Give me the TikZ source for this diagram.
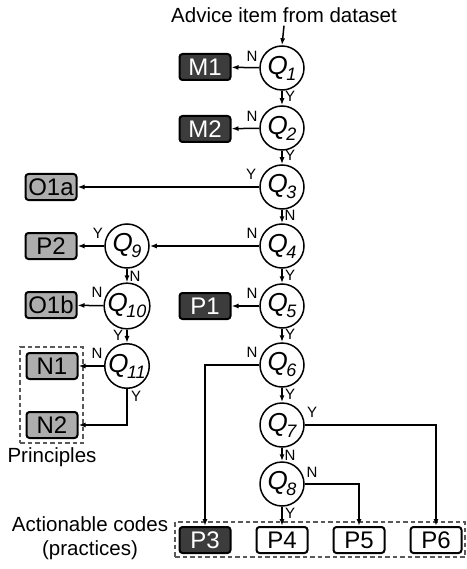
\documentclass[tikz,border=0pt]{standalone}
\usepackage{fontspec}
\setmainfont{Liberation Sans}
\usetikzlibrary{arrows.meta}
\definecolor{darkfill}{HTML}{3C3C3C}
\definecolor{lightfill}{HTML}{ADADAD}
\newcommand{\qlab}[1]{{\fontsize{26}{26}\selectfont\itshape Q}\kern-1.5pt\raisebox{-6pt}{\fontsize{18}{18}\selectfont\itshape #1}}
\begin{document}
\begin{tikzpicture}[x=1pt,y=-1pt,
  qnode/.style={draw,circle,line width=1.5pt,minimum size=44pt,inner sep=0pt,fill=white},
  cbox/.style={draw,rounded corners=3pt,line width=2pt,minimum width=51pt,minimum height=26pt,inner sep=0pt,font=\fontsize{24}{24}\selectfont},
  darkbox/.style={cbox,fill=darkfill,text=white},
  lightbox/.style={cbox,fill=lightfill},
  whitebox/.style={cbox,fill=white},
  arr/.style={-{Latex[length=7pt,width=5pt]},line width=1.5pt},
  lbl/.style={font=\fontsize{15}{15}\selectfont,inner sep=0pt},
  dashbox/.style={draw=black!65,dashed,dash pattern=on 4.5pt off 3pt,line width=1.3pt},
  txt/.style={font=\fontsize{20.5}{24}\selectfont,inner sep=0pt}]
\useasboundingbox (0,0) rectangle (466,569);
% texts
\node[txt] (adv) at (284,15) {Advice item from dataset};
% question nodes
\node[qnode] (q1) at (282,68) {\qlab{1}};
\node[qnode] (q2) at (282,128) {\qlab{2}};
\node[qnode] (q3) at (282,187) {\qlab{3}};
\node[qnode] (q4) at (282,246) {\qlab{4}};
\node[qnode] (q5) at (282,306) {\qlab{5}};
\node[qnode] (q6) at (282,365) {\qlab{6}};
\node[qnode] (q7) at (282,425) {\qlab{7}};
\node[qnode] (q8) at (282,484) {\qlab{8}};
\node[qnode] (q9) at (127,246) {\qlab{9}};
\node[qnode] (q10) at (127,306) {\qlab{10}};
\node[qnode] (q11) at (127,366) {\qlab{11}};
% code boxes
\node[darkbox] (m1) at (205,67) {M1};
\node[darkbox] (m2) at (205,129) {M2};
\node[darkbox] (p1) at (205,306) {P1};
\node[lightbox] (o1a) at (51,187) {O1a};
\node[lightbox] (p2) at (51,246) {P2};
\node[lightbox] (o1b) at (51,305) {O1b};
\node[lightbox] (n1) at (52,366) {N1};
\node[lightbox] (n2) at (52,425) {N2};
\node[darkbox] (p3) at (205,540) {P3};
\node[whitebox] (p4) at (282,540) {P4};
\node[whitebox] (p5) at (359,540) {P5};
\node[whitebox] (p6) at (436,540) {P6};
% dashed groups
\node[dashbox,minimum width=63pt,minimum height=96pt,inner sep=0pt] (grpn) at (51.5,395) {};
\node[dashbox,minimum width=290pt,minimum height=35pt,inner sep=0pt] (grpp) at (320,539.5) {};
\node[txt] (prin) at (52,457) {Principles};
\node[txt,align=center] (act) at (90,538) {Actionable codes\\(practices)};
% connectors
\draw[arr] (adv.south) ++(0,3) coordinate (advs) -- (q1.north);
\draw[arr] (q1) -- (m1);
\draw[arr] (q1) -- (q2);
\draw[arr] (q2) -- (m2);
\draw[arr] (q2) -- (q3);
\draw[arr] (q3) -- (o1a);
\draw[arr] (q3) -- (q4);
\draw[arr] (q4) -- (q9);
\draw[arr] (q4) -- (q5);
\draw[arr] (q5) -- (p1);
\draw[arr] (q5) -- (q6);
\draw[arr] (q6.west) -| (p3.north);
\draw[arr] (q6) -- (q7);
\draw[arr] (q7.east) -| (p6.north);
\draw[arr] (q7) -- (q8);
\draw[arr] (q8.east) -| (p5.north);
\draw[arr] (q8) -- (p4);
\draw[arr] (q9) -- (p2);
\draw[arr] (q9) -- (q10);
\draw[arr] (q10) -- (o1b);
\draw[arr] (q10) -- (q11);
\draw[arr] (q11) -- (n1);
\draw[arr] (q11.south) |- (n2.east);
% labels
\node[lbl] (l1) at (252,56) {N};
\node[lbl] (l2) at (290,96) {Y};
\node[lbl] (l3) at (252,116) {N};
\node[lbl] (l4) at (290,155) {Y};
\node[lbl] (l5) at (251,174) {Y};
\node[lbl] (l6) at (290,215) {N};
\node[lbl] (l7) at (252,233) {N};
\node[lbl] (l8) at (290,275) {Y};
\node[lbl] (l9) at (252,293) {N};
\node[lbl] (l10) at (290,334) {Y};
\node[lbl] (l11) at (252,352) {N};
\node[lbl] (l12) at (290,394) {Y};
\node[lbl] (l13) at (312,412) {Y};
\node[lbl] (l14) at (290,455) {N};
\node[lbl] (l15) at (312,472) {N};
\node[lbl] (l16) at (290,513) {Y};
\node[lbl] (l17) at (98,233) {Y};
\node[lbl] (l18) at (135,276) {N};
\node[lbl] (l19) at (97,292) {N};
\node[lbl] (l20) at (118,335) {Y};
\node[lbl] (l21) at (97,353) {N};
\node[lbl] (l22) at (136,396) {Y};
\end{tikzpicture}
\end{document}
